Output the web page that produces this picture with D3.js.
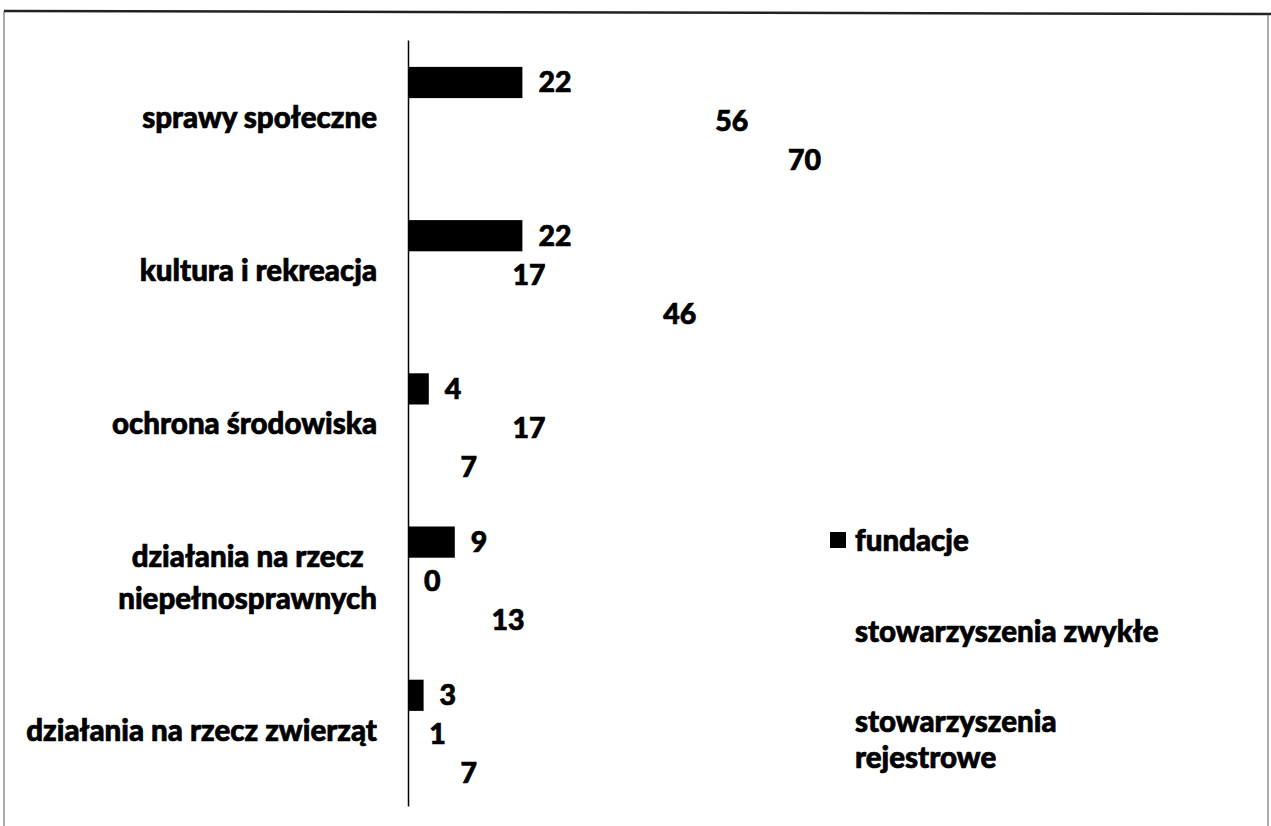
<!DOCTYPE html>
<html>
<head>
<meta charset="utf-8">
<script src="https://cdn.jsdelivr.net/npm/d3@7"></script>
<style>
    body { margin: 0; background: #fff; }
    svg { display: block; }
    text { font-family: Lato, "Noto Sans", sans-serif; font-weight: 900; fill: #000; stroke: #000; stroke-width: 0.7; }
</style>
</head>
<body>
<svg id="chart" width="1271" height="826"></svg>
<script>
// data
const categories = [
    ['sprawy społeczne'],
    ['kultura i rekreacja'],
    ['ochrona środowiska'],
    ['działania na rzecz', 'niepełnosprawnych'],
    ['działania na rzecz zwierząt']
];
const seriesNames = ['fundacje', 'stowarzyszenia zwykłe', 'stowarzyszenia rejestrowe'];
const legendLines = [['fundacje'], ['stowarzyszenia zwykłe'], ['stowarzyszenia', 'rejestrowe']];
const fundacje = [22, 22, 4, 9, 3];
const zwykle = [56, 17, 17, 0, 1];
const rejestrowe = [70, 46, 7, 13, 7];
const seriesColors = ['#000', '#fff', '#fff'];

const values = [fundacje, zwykle, rejestrowe];
const catKeys = categories.map(c => c.join(' '));

const svg = d3.select('#chart');
const fontSize = 29.5;
const numSize = 28.5;

// scan frame
svg.append('line').attr('x1', 4).attr('y1', 11).attr('x2', 1271).attr('y2', 14)
    .attr('stroke', '#222').attr('stroke-width', 2.5);
svg.append('line').attr('x1', 4).attr('y1', 11).attr('x2', 4).attr('y2', 826)
    .attr('stroke', '#555').attr('stroke-width', 1);
svg.append('line').attr('x1', 1268).attr('y1', 14).attr('x2', 1268).attr('y2', 826)
    .attr('stroke', '#555').attr('stroke-width', 1);

const x = d3.scaleLinear().domain([0, 70]).range([408, 772]);
const y0 = d3.scaleBand().domain(catKeys).range([40, 806]);
const y1 = d3.scaleBand().domain(seriesNames).range([23, 140])
    .paddingInner(0.2).paddingOuter(0.1);

const groups = svg.append('g').selectAll('g')
    .data(catKeys)
    .join('g')
    .attr('transform', d => `translate(0,${y0(d)})`);

groups.each(function (cat, i) {
    const g = d3.select(this);
    seriesNames.forEach((s, j) => {
        const v = values[j][i];
        g.append('rect')
            .attr('x', x(0))
            .attr('y', y1(s))
            .attr('width', x(v) - x(0))
            .attr('height', y1.bandwidth())
            .attr('fill', seriesColors[j]);
        g.append('text')
            .attr('x', x(v) + 16)
            .attr('y', y1(s) + y1.bandwidth() / 2)
            .attr('dy', '0.35em')
            .attr('font-size', numSize)
            .text(v);
    });
});

// axis line only
svg.append('g')
    .attr('transform', `translate(${x(0)},0)`)
    .call(d3.axisLeft(y0).tickSize(0).tickFormat(''))
    .call(g => g.select('.domain').attr('stroke', '#000').attr('stroke-width', 1.5));

// category labels
const labelRight = 377;
const lineH = 42;
categories.forEach((lines, i) => {
    const cy = y0(catKeys[i]) + y0.bandwidth() / 2 + 1;
    const t = svg.append('text').attr('font-size', fontSize);
    lines.forEach((ln, k) => {
        t.append('tspan')
            .attr('y', cy + (k - (lines.length - 1) / 2) * lineH)
            .attr('dy', '0.35em')
            .text(ln);
    });
    if (lines.length === 1) {
        t.attr('text-anchor', 'end').selectAll('tspan').attr('x', labelRight);
    } else {
        let w = 0;
        t.selectAll('tspan').each(function () { w = Math.max(w, this.getComputedTextLength()); });
        t.attr('text-anchor', 'middle').selectAll('tspan').attr('x', labelRight - w / 2);
    }
});

// legend
const legendY = [541, 632, 740];
const legend = svg.append('g');
legendLines.forEach((lines, i) => {
    legend.append('rect')
        .attr('x', 830).attr('y', legendY[i] - 9)
        .attr('width', 16).attr('height', 16)
        .attr('fill', seriesColors[i]);
    const t = legend.append('text').attr('font-size', fontSize);
    lines.forEach((ln, k) => {
        t.append('tspan')
            .attr('x', 855)
            .attr('y', legendY[i] + (k - (lines.length - 1) / 2) * 36)
            .attr('dy', '0.35em')
            .text(ln);
    });
});
</script>
</body>
</html>
